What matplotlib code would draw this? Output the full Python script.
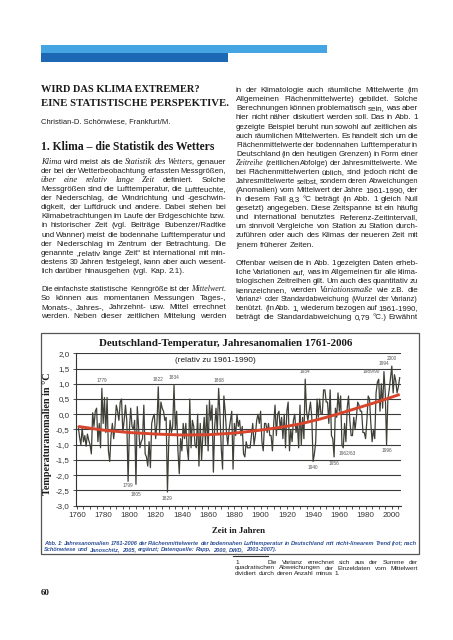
import matplotlib
matplotlib.use("Agg")
import matplotlib.pyplot as plt
from matplotlib.patches import Rectangle
from matplotlib.ticker import MultipleLocator, FuncFormatter

W, H = 453, 640
SANS = "Liberation Sans"
SERIF = "Liberation Serif"
plt.rcParams["font.family"] = [SANS, "DejaVu Sans"]

# annual anomalies 1761-2006 (deg C, relative to 1961-1990)
years = list(range(1761, 2007))
anomalies = [
    -0.40, -0.75, -1.00, -0.45, -0.90, -0.70, -1.05, -0.65, -0.85, -1.00,
    -1.30, 0.05, -0.40, 0.10, 0.20, -0.90, -0.30, -1.10, 0.85, -0.30,
    0.55, -0.60, 0.55, -1.20, -1.55, -0.70, -0.30, -0.80, -0.40, 0.30,
    0.10, -0.20, 0.40, 0.50, -0.60, -0.20, 0.30, -0.20, -2.20, -0.50,
    0.20, -0.40, -0.50, -0.20, -2.30, 0.25, -0.40, -1.10, -0.90, -0.80,
    0.30, -1.30, -1.40, -1.70, -0.90, -1.75, -0.30, -0.10, 0.00, -0.80,
    -0.30, 0.90, -0.60, 0.40, 0.20, 0.10, -0.20, -0.10, -2.55, -0.90,
    -0.20, -0.60, -0.40, 0.95, -0.50, 0.10, -1.20, -1.95, -0.80, -1.20,
    -0.30, -0.80, -0.30, -1.10, -1.50, 0.50, -1.10, -0.20, -0.40, -1.00,
    -1.10, 0.00, -1.70, -0.30, -1.50, -0.70, -0.10, -1.00, 0.30, -1.20,
    0.45, -0.20, 0.30, -1.90, -0.40, 0.20, -0.60, 0.85, 0.00, -1.10,
    -1.80, 0.60, 0.10, -0.60, -1.00, -0.50, -0.20, 0.10, -1.80, -0.30,
    -0.70, 0.00, -0.40, -0.20, -0.70, -0.40, -1.30, -1.40, -0.90, -1.10,
    -1.10, -1.10, -0.70, -0.30, -1.00, -0.70, -0.20, 0.00, -0.30, 0.10,
    -0.90, -1.20, -0.30, -0.30, -0.60, -0.30, -0.70, -0.70, -1.20, -0.30,
    0.30, -0.70, 0.00, 0.10, -0.50, -0.10, -0.80, 0.00, -1.10, 0.10,
    0.40, -1.20, -0.50, -0.90, -0.20, 0.00, -0.60, -0.30, -1.10, 0.30,
    -1.00, -0.10, -0.80, 1.15, 0.10, -0.20, 0.10, 0.40, -0.10, -1.55,
    -1.30, -0.90, 0.50, -0.10, 0.50, 0.00, 0.00, 0.80, 0.80, 0.40,
    0.40, -0.30, 0.80, -0.70, -0.80, -1.40, 0.20, -0.10, 0.70, 0.10,
    0.60, -1.00, -1.10, -0.30, -0.90, 0.20, 0.60, -0.20, -0.70, -0.70,
    -0.10, -0.50, -0.10, 0.40, 0.30, 0.10, 0.10, -0.60, -0.60, -0.80,
    -0.20, 0.60, 0.50, -0.30, -0.90, -0.50, -0.80, 0.70, 1.05, 1.15,
    0.10, 1.00, 0.20, 1.40, 0.70, -1.00, 0.50, 0.80, 1.20, 1.58,
    0.70, 1.30, 1.10, 0.70, 0.90, 1.20,
]

# non-linear trend (red), read at a few years
trend_years = [1761, 1780, 1800, 1820, 1840, 1860, 1880, 1900, 1915, 1930, 1945, 1960, 1975, 1990, 2006]
trend_values = [-0.40, -0.52, -0.60, -0.65, -0.68, -0.67, -0.62, -0.52, -0.43, -0.32, -0.16, 0.02, 0.22, 0.42, 0.65]

peak_labels = ["1779", "1822", "1834", "1868", "1934", "1989/90", "1994", "2000"]
peak_years = [1779, 1822, 1834, 1868, 1934, 1990, 1994, 2000]
low_labels = ["1799", "1805", "1829", "1940", "1956", "1962/63", "1996"]
low_years = [1799, 1805, 1829, 1940, 1956, 1963, 1996]

y_ticks = [-3.0, -2.5, -2.0, -1.5, -1.0, -0.5, 0.0, 0.5, 1.0, 1.5, 2.0]
x_ticks = [1760, 1780, 1800, 1820, 1840, 1860, 1880, 1900, 1920, 1940, 1960, 1980, 2000]

left_column = [
    ("_Klima_ wird meist als die _Statistik_ _des_ _Wetters_, genauer", True),
    ("der bei der Wetterbeobachtung erfassten Messgrößen,", True),
    ("_über_ _eine_ _relativ_ _lange_ _Zeit_ definiert. Solche", True),
    ("Messgrößen sind die Lufttemperatur, die Luftfeuchte,", True),
    ("der Niederschlag, die Windrichtung und -geschwin-", True),
    ("digkeit, der Luftdruck und andere. Dabei stehen bei", True),
    ("Klimabetrachtungen im Laufe der Erdgeschichte bzw.", True),
    ("in historischer Zeit (vgl. Beiträge Bubenzer/Radtke", True),
    ("und Wanner) meist die bodennahe Lufttemperatur und", True),
    ("der Niederschlag im Zentrum der Betrachtung. Die", True),
    ("genannte „relativ lange Zeit“ ist international mit min-", True),
    ("destens 30 Jahren festgelegt, kann aber auch wesent-", True),
    ("lich darüber hinausgehen (vgl. Kap. 2.1).", False),
    None,
    ("Die einfachste statistische Kenngröße ist der _Mittelwert_.", True),
    ("So können aus momentanen Messungen Tages-,", True),
    ("Monats-, Jahres-, Jahrzehnt- usw. Mittel errechnet", True),
    ("werden. Neben dieser zeitlichen Mittelung werden", True),
]

right_column = [
    ("in der Klimatologie auch räumliche Mittelwerte (im", True),
    ("Allgemeinen Flächenmittelwerte) gebildet. Solche", True),
    ("Berechnungen können problematisch sein, was aber", True),
    ("hier nicht näher diskutiert werden soll. Das in Abb. 1", True),
    ("gezeigte Beispiel beruht nun sowohl auf zeitlichen als", True),
    ("auch räumlichen Mittelwerten. Es handelt sich um die", True),
    ("Flächenmittelwerte der bodennahen Lufttemperatur in", True),
    ("Deutschland (in den heutigen Grenzen) in Form einer", True),
    ("_Zeitreihe_ (zeitlichen Abfolge) der Jahresmittelwerte. Wie", True),
    ("bei Flächenmittelwerten üblich, sind jedoch nicht die", True),
    ("Jahresmittelwerte selbst, sondern deren Abweichungen", True),
    ("(Anomalien) vom Mittelwert der Jahre 1961-1990, der", True),
    ("in diesem Fall 8,3 °C beträgt (in Abb. 1 gleich Null", True),
    ("gesetzt) angegeben. Diese Zeitspanne ist ein häufig", True),
    ("und international benutztes Referenz-Zeitintervall,", True),
    ("um sinnvoll Vergleiche von Station zu Station durch-", True),
    ("zuführen oder auch des Klimas der neueren Zeit mit", True),
    ("jenem früherer Zeiten.", False),
    None,
    ("Offenbar weisen die in Abb. 1 gezeigten Daten erheb-", True),
    ("liche Variationen auf, was im Allgemeinen für alle klima-", True),
    ("tologischen Zeitreihen gilt. Um auch dies quantitativ zu", True),
    ("kennzeichnen, werden _Variationsmaße_ wie z.B. die", True),
    ("Varianz¹ oder Standardabweichung (Wurzel der Varianz)", True),
    ("benützt. (In Abb. 1, wiederum bezogen auf 1961-1990,", True),
    ("beträgt die Standardabweichung 0,79 °C.) Erwähnt", True),
]

caption_lines = [
    ("Abb. 1: Jahresanomalien 1761-2006 der Flächenmittelwerte der bodennahen Lufttemperatur in Deutschland mit nicht-linearem Trend (rot; nach", True),
    ("Schönwiese und Janoschitz, 2005, ergänzt; Datenquelle: Rapp, 2000, DWD, 2001-2007).", False),
]

footnote_lines = [
    ("Die Varianz errechnet sich aus der Summe der", True),
    ("quadratischen Abweichungen der Einzeldaten vom Mittelwert", True),
    ("dividiert durch deren Anzahl minus 1.", False),
]

fig = plt.figure(figsize=(W / 100, H / 100), dpi=100)
fig.patch.set_facecolor("white")
page = fig.add_axes([0, 0, 1, 1])
page.set_xlim(0, W)
page.set_ylim(H, 0)
page.axis("off")
renderer = fig.canvas.get_renderer()


def width_of(t):
    return t.get_window_extent(renderer).width


def fit_text(x, y, s, width, **kw):
    t = page.text(x, y, s, fontsize=10, **kw)
    t.set_fontsize(10 * width / width_of(t))
    return t


def put_line(line, x0, x1, y, size, justify, color="#1f1f1f", **kw):
    arts = []
    for w in line.split(" "):
        if w.startswith("_"):
            a = page.text(0, y, w.replace("_", ""), fontsize=size + 0.2, family=SERIF,
                          style="italic", color=color, va="baseline")
        else:
            a = page.text(0, y, w, fontsize=size, color=color, va="baseline", **kw)
        arts.append(a)
    widths = [width_of(a) for a in arts]
    min_space = size * 100 / 72 * 0.2
    need = sum(widths) + min_space * (len(arts) - 1)
    if need > x1 - x0:
        # squeeze an over-long line a little so it still fits the column
        k = (x1 - x0 - min_space * (len(arts) - 1)) / sum(widths)
        for a in arts:
            a.set_fontsize(a.get_fontsize() * k)
        widths = [width_of(a) for a in arts]
    space = size * 100 / 72 * 0.278
    if justify and len(arts) > 1:
        space = (x1 - x0 - sum(widths)) / (len(arts) - 1)
    x = x0
    for a, w in zip(arts, widths):
        a.set_x(x)
        x += w + space


def put_column(lines, x0, x1, y0, step, size):
    for i, item in enumerate(lines):
        if item is None:
            continue
        text, just = item
        put_line(text, x0, x1, y0 + i * step + 2.9, size, just)


# header bar
page.add_patch(Rectangle((41, 45), 286, 8, facecolor="#45a5e3", edgecolor="none"))
page.add_patch(Rectangle((41, 53), 187, 9, facecolor="#1c68b4", edgecolor="none"))

fit_text(41, 90, "WIRD DAS KLIMA EXTREMER?", 158, family=SERIF, weight="bold",
         va="center", color="#1a1a1a")
fit_text(41, 103, "EINE STATISTISCHE PERSPEKTIVE.", 188, family=SERIF, weight="bold",
         va="center", color="#1a1a1a")
fit_text(41, 122, "Christian-D. Schönwiese, Frankfurt/M.", 129, va="center", color="#1f1f1f")
fit_text(41, 147, "1. Klima – die Statistik des Wetters", 175, family=SERIF, weight="bold",
         va="center", color="#1a1a1a")

put_column(left_column, 41, 226, 161, 9.08, 5.8)
put_column(right_column, 236, 418, 89.3, 9.08, 5.8)

# figure box
page.add_patch(Rectangle((41, 333), 378, 221, facecolor="none", edgecolor="#555555", lw=0.9))
fit_text(99, 343, "Deutschland-Temperatur, Jahresanomalien 1761-2006", 255, family=SERIF,
         weight="bold", va="center", color="#1a1a1a")
fit_text(175, 361, "(relativ zu 1961-1990)", 80, va="center", color="#1f1f1f")
fit_text(238.5, 531, "Zeit in Jahren", 53, family=SERIF, weight="bold",
         va="center", ha="center", color="#1a1a1a")
ylab = page.text(47, 434, "Temperaturanomalien in °C", fontsize=10, family=SERIF, weight="bold",
                 rotation=90, va="center", ha="center", color="#1a1a1a")
ylab.set_fontsize(10 * 122 / ylab.get_window_extent(renderer).height)

for i, (text, just) in enumerate(caption_lines):
    put_line(text, 44, 417, 543.3 + i * 6 + 1.7, 4.1, just, color="#2d5097",
             weight="bold", style="italic")

page.plot([233, 268], [555.5, 555.5], color="#333333", lw=0.8)
page.text(235, 561.7 + 2.0, "1", fontsize=4.6, color="#1f1f1f", va="baseline")
put_line(footnote_lines[0][0], 268, 418, 561.7 + 2.0, 4.6, True)
for i, (text, just) in enumerate(footnote_lines[1:], start=1):
    put_line(text, 235, 418, 561.7 + i * 5.8 + 2.0, 4.6, just)

page.text(41, 593, "60", fontsize=6.5, family=SERIF, weight="bold", va="center", color="#1a1a1a")

# chart
ax = fig.add_axes([76 / W, 1 - 505.7 / H, 325 / W, 152.4 / H])
ax.set_facecolor("none")
ax.plot(years, anomalies, color="#404038", lw=0.9, zorder=3)
ax.plot(trend_years, trend_values, color="#d6452c", lw=2.1, zorder=4, solid_capstyle="butt")

low_offsets = {"1799": -0.15, "1805": -0.32, "1829": -0.23}
for lab, yr in zip(peak_labels, peak_years):
    v = anomalies[years.index(yr)]
    if lab == "1989/90":
        ax.text(yr + 0.5, v + 0.25, lab, fontsize=3.4, color="#555555", ha="right", va="center")
    else:
        ax.text(yr, v + 0.25, lab, fontsize=3.4, color="#555555", ha="center", va="center")
for lab, yr in zip(low_labels, low_years):
    v = anomalies[years.index(yr)]
    dx = 2.7 if lab == "1962/63" else 0
    ax.text(yr + dx, v + low_offsets.get(lab, -0.2), lab, fontsize=3.4, color="#555555",
            ha="center", va="center")

ax.set_xlim(1759.3, 2007)
ax.set_ylim(-3, 2)
ax.set_yticks(y_ticks)
ax.set_xticks(x_ticks)
ax.xaxis.set_minor_locator(MultipleLocator(5))
ax.yaxis.set_major_formatter(FuncFormatter(
    lambda v, p: f"{0.0 if abs(v) < 1e-9 else v:.1f}".replace(".", ",")))
ax.grid(axis="y", color="#3a3a3a", lw=0.8)
ax.set_axisbelow(True)
for s in ("top", "right"):
    ax.spines[s].set_visible(False)
for s in ("left", "bottom"):
    ax.spines[s].set_color("#333333")
    ax.spines[s].set_linewidth(0.8)
ax.tick_params(which="both", direction="out", length=2.5, width=0.6, color="#333333",
               labelsize=5.8, labelcolor="#333333", pad=2)

fig.savefig("out.png", dpi=100, facecolor="white")
